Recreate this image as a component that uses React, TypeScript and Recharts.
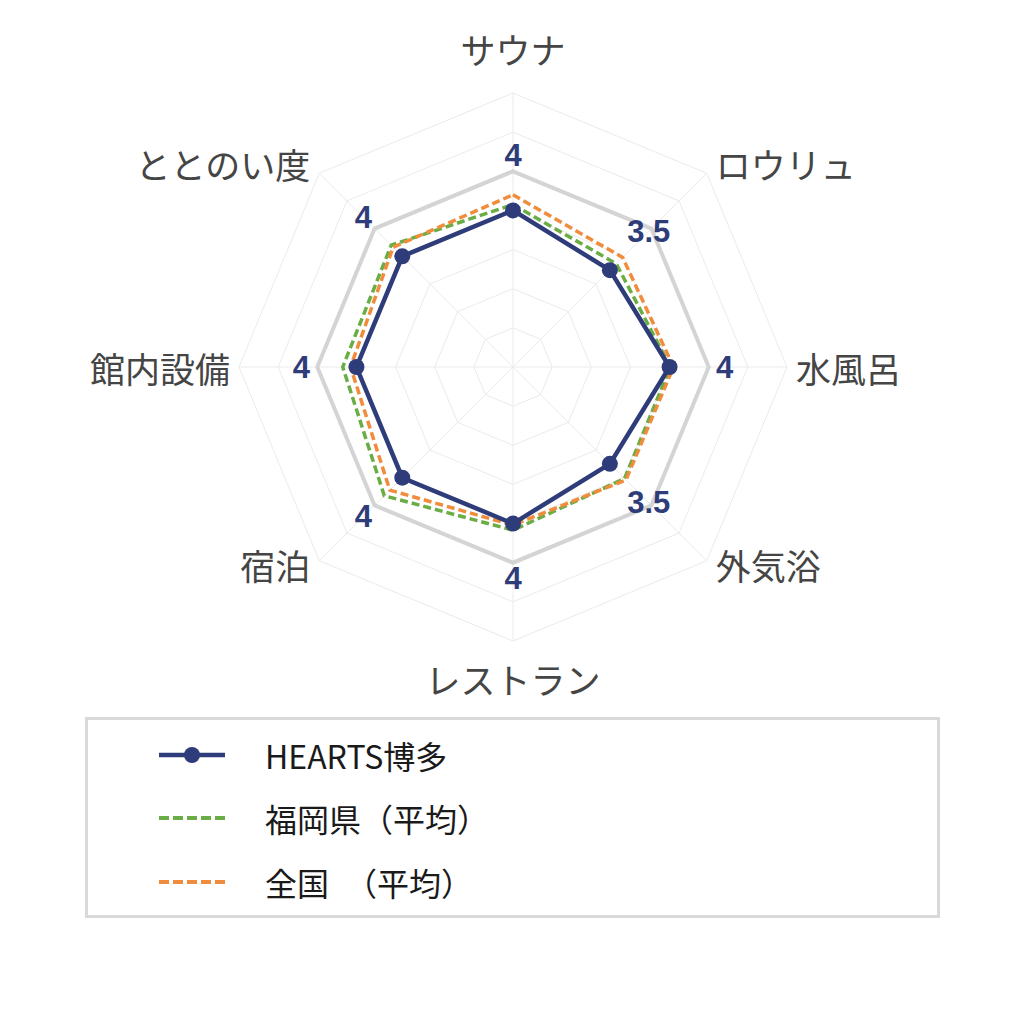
import { JSX } from 'react';
import {
  Legend,
  PolarAngleAxis,
  PolarGrid,
  PolarRadiusAxis,
  Radar,
  RadarChart,
} from 'recharts';

const categories = [
  'サウナ',
  'ロウリュ',
  '水風呂',
  '外気浴',
  'レストラン',
  '宿泊',
  '館内設備',
  'ととのい度',
];
const heartsScores = [4, 3.5, 4, 3.5, 4, 4, 4, 4];
const fukuokaAvg = [4.15, 3.73, 4.02, 4.03, 4.17, 4.65, 4.35, 4.4];
const nationalAvg = [4.4, 3.96, 4.1, 4.08, 4.04, 4.45, 4.15, 4.33];
const scaleMax = [5, 5, 5, 5, 5, 5, 5, 5];
const seriesNames = ['HEARTS博多', '福岡県（平均）', '全国　（平均）'];

const data = categories.map((subject, i) => ({
  subject,
  hearts: heartsScores[i],
  fukuoka: fukuokaAvg[i],
  national: nationalAvg[i],
  scale: scaleMax[i],
}));

const CX = 513;
const CY = 367;
const R = 274;
const NAVY = '#2f3c7a';
const GREEN = '#6aad45';
const ORANGE = '#f08c3c';
const JP_FONT = "'Noto Sans CJK JP', 'Noto Sans', sans-serif";

// category labels sit just outside the outer polygon
const AxisTick = (props: any) => {
  const { x, y, payload } = props;
  const dx = x - CX;
  const dy = y - CY;
  const len = Math.hypot(dx, dy) || 1;
  const ux = dx / len;
  const uy = dy / len;
  const bx = CX + ux * R;
  const by = CY + uy * R;
  let tx = bx;
  let ty = by;
  let anchor: 'start' | 'middle' | 'end' = 'middle';
  if (Math.abs(ux) < 0.05) {
    ty = by + (uy < 0 ? -45 : 37);
  } else {
    anchor = ux > 0 ? 'start' : 'end';
    tx = bx + (ux > 0 ? 9 : -9);
    ty = by + (uy < -0.05 ? -10 : uy > 0.05 ? 4 : 0);
  }
  return (
    <text
      x={tx}
      y={ty}
      textAnchor={anchor}
      dominantBaseline='central'
      fontFamily={JP_FONT}
      fontSize={35}
      fill='#454545'
    >
      {payload.value}
    </text>
  );
};

// marker plus value label for the HEARTS series
const HeartsDot = (props: any) => {
  const { cx, cy, index, payload } = props;
  const value =
    typeof payload?.value === 'number'
      ? payload.value
      : payload?.payload?.hearts ?? heartsScores[index];
  const dx = cx - CX;
  const dy = cy - CY;
  const len = Math.hypot(dx, dy) || 1;
  const lx = cx + (dx / len) * 55;
  const ly = cy + (dy / len) * 55;
  return (
    <g key={`hearts-dot-${index}`}>
      <circle cx={cx} cy={cy} r={8} fill={NAVY} stroke='none' />
      <text
        x={lx}
        y={ly}
        textAnchor='middle'
        dominantBaseline='central'
        fontFamily="'Liberation Sans', Arial, sans-serif"
        fontWeight='bold'
        fontSize={31}
        fill={NAVY}
      >
        {value}
      </text>
    </g>
  );
};

const legendRows = [
  { name: seriesNames[0], color: NAVY, dashed: false },
  { name: seriesNames[1], color: GREEN, dashed: true },
  { name: seriesNames[2], color: ORANGE, dashed: true },
];
const legendRowY = [38, 101, 165];

const renderLegend = (): JSX.Element => (
  <div
    style={{
      boxSizing: 'border-box',
      position: 'relative',
      width: 855,
      height: 201,
      border: '3px solid #d9d9d9',
      background: '#fff',
    }}
  >
    {legendRows.map((row, i) => (
      <div
        key={row.name}
        style={{
          position: 'absolute',
          left: 69,
          top: legendRowY[i] - 3 - 20,
          height: 40,
          display: 'flex',
          alignItems: 'center',
        }}
      >
        <svg width={70} height={40}>
          <line
            x1={2}
            x2={68}
            y1={20}
            y2={20}
            stroke={row.color}
            strokeWidth={row.dashed ? 4 : 4.5}
            strokeDasharray={row.dashed ? '10 4' : undefined}
          />
          {!row.dashed && <circle cx={35} cy={20} r={8} fill={row.color} />}
        </svg>
        <span
          style={{
            marginLeft: 38,
            fontFamily: JP_FONT,
            fontSize: 32,
            color: '#1a1a1a',
            whiteSpace: 'pre',
          }}
        >
          {row.name}
        </span>
      </div>
    ))}
  </div>
);

export default function App(): JSX.Element {
  return (
    <div
      style={{
        position: 'absolute',
        left: 0,
        top: 0,
        width: 1024,
        height: 1024,
        background: '#fff',
      }}
    >
      <RadarChart
        width={1024}
        height={1024}
        data={data}
        cx={CX}
        cy={CY}
        outerRadius={R}
        margin={{ top: 0, right: 0, bottom: 0, left: 0 }}
      >
        <PolarGrid gridType='polygon' stroke='#ebebeb' strokeWidth={1} />
        <PolarRadiusAxis
          domain={[0, 7]}
          tickCount={8}
          tick={false}
          axisLine={false}
        />
        <PolarAngleAxis
          dataKey='subject'
          tick={<AxisTick />}
          tickLine={false}
          axisLine={false}
        />
        <Radar
          dataKey='scale'
          stroke='#d4d4d4'
          strokeWidth={4}
          fill='none'
          fillOpacity={0}
          dot={false}
          isAnimationActive={false}
          legendType='none'
        />
        <Radar
          name={seriesNames[1]}
          dataKey='fukuoka'
          stroke={GREEN}
          strokeWidth={3.5}
          strokeDasharray='8 4'
          fill='none'
          fillOpacity={0}
          dot={false}
          isAnimationActive={false}
        />
        <Radar
          name={seriesNames[2]}
          dataKey='national'
          stroke={ORANGE}
          strokeWidth={3.5}
          strokeDasharray='8 4'
          fill='none'
          fillOpacity={0}
          dot={false}
          isAnimationActive={false}
        />
        <Radar
          name={seriesNames[0]}
          dataKey='hearts'
          stroke={NAVY}
          strokeWidth={4.5}
          fill='none'
          fillOpacity={0}
          dot={HeartsDot}
          isAnimationActive={false}
        />
        <Legend
          content={renderLegend}
          wrapperStyle={{
            left: 85,
            top: 717,
            bottom: 'auto',
            width: 855,
            height: 201,
          }}
        />
      </RadarChart>
    </div>
  );
}
